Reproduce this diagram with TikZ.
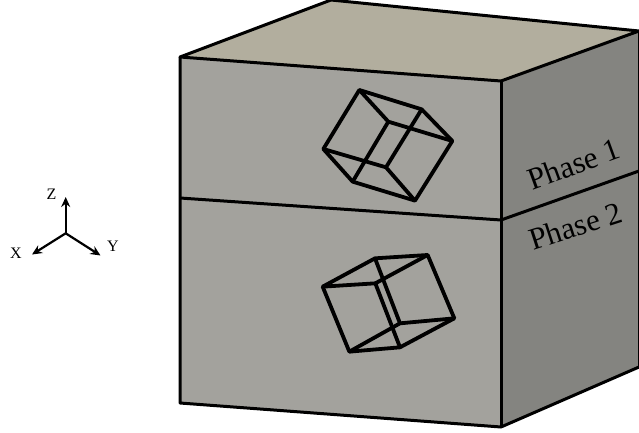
\documentclass[tikz,border=0pt]{standalone}
\usepackage{fontspec}
\setmainfont{Liberation Serif}
\usepackage{xcolor}
\usetikzlibrary{arrows.meta}
\definecolor{frente}{HTML}{A3A29D}
\definecolor{lado}{HTML}{848480}
\definecolor{tapa}{HTML}{B2AE9E}

\begin{document}
\begin{tikzpicture}[x=1pt, y=-1pt, line join=round,
  borde/.style={line width=3pt},
  cubo/.style={line width=3.8pt},
  eje/.style={line width=2.2pt, -{Stealth[length=10pt,width=9pt]}},
  etiq/.style={font=\fontsize{31}{31}\selectfont, inner sep=0pt},
  letra/.style={font=\fontsize{16}{16}\selectfont, inner sep=0pt}]
  \useasboundingbox (0,0) rectangle (639,433);
  % caras
  \coordinate (tl) at (180,57);
  \coordinate (tb) at (331,0);
  \coordinate (tr) at (639,31);
  \coordinate (tf) at (501,81);
  \coordinate (ml) at (180,198);
  \coordinate (mf) at (501,220);
  \coordinate (mr) at (639,171);
  \coordinate (bl) at (180,403);
  \coordinate (bf) at (501,427);
  \coordinate (br) at (639,367);
  \fill[tapa] (tl) -- (tb) -- (tr) -- (tf) -- cycle;
  \fill[frente] (tl) -- (tf) -- (bf) -- (bl) -- cycle;
  \fill[lado] (tf) -- (tr) -- (br) -- (bf) -- cycle;
  \draw[borde] (tl) -- (tb) -- (tr) -- (tf) -- cycle;
  \draw[borde] (tl) -- (bl) -- (bf) -- (br);
  \draw[borde] (tf) -- (bf);
  \draw[borde] (ml) -- (mf) -- (mr);
  \draw[borde] (tr) -- (br);
  % cubo fase 1
  \begin{scope}[shift={(300,70)}, x=0.3333pt, y=-0.3333pt]
    \coordinate (a1) at (178,60);
    \coordinate (b1) at (365,118);
    \coordinate (c1) at (457,213);
    \coordinate (d1) at (345,392);
    \coordinate (e1) at (158,335);
    \coordinate (f1) at (70,237);
    \coordinate (g1) at (265,155);
    \coordinate (h1) at (258,292);
    \draw[cubo] (a1) -- (b1) -- (c1) -- (d1) -- (e1) -- (f1) -- cycle;
    \draw[cubo] (a1) -- (g1) -- (c1) (g1) -- (e1);
    \draw[cubo] (b1) -- (h1) -- (f1) (h1) -- (d1);
  \end{scope}
  % cubo fase 2
  \begin{scope}[shift={(300,235)}, x=0.3333pt, y=-0.3333pt]
    \coordinate (a2) at (225,70);
    \coordinate (b2) at (383,60);
    \coordinate (c2) at (463,250);
    \coordinate (d2) at (300,337);
    \coordinate (e2) at (148,350);
    \coordinate (f2) at (68,155);
    \coordinate (g2) at (226,145);
    \coordinate (h2) at (300,265);
    \draw[cubo] (a2) -- (b2) -- (c2) -- (d2) -- (e2) -- (f2) -- cycle;
    \draw[cubo] (f2) -- (g2) -- (b2) (g2) -- (d2);
    \draw[cubo] (a2) -- (h2) -- (c2) (h2) -- (e2);
  \end{scope}
  \node[etiq, rotate=20] (fase1) at (574,164) {Phase 1};
  \node[etiq, rotate=18] (fase2) at (575.5,226) {Phase 2};
  % ejes
  \coordinate (o) at (65.7,233.3);
  \node[letra] (zlab) at (51.5,194) {Z};
  \node[letra] (xlab) at (16,253) {X};
  \node[letra] (ylab) at (113,246) {Y};
  \coordinate (zt) at (65.7,197);
  \coordinate (xt) at (32,254.5);
  \coordinate (yt) at (100.5,255.5);
  \draw[eje] (o) -- (zt);
  \draw[eje] (o) -- (xt);
  \draw[eje] (o) -- (yt);
\end{tikzpicture}
\end{document}
